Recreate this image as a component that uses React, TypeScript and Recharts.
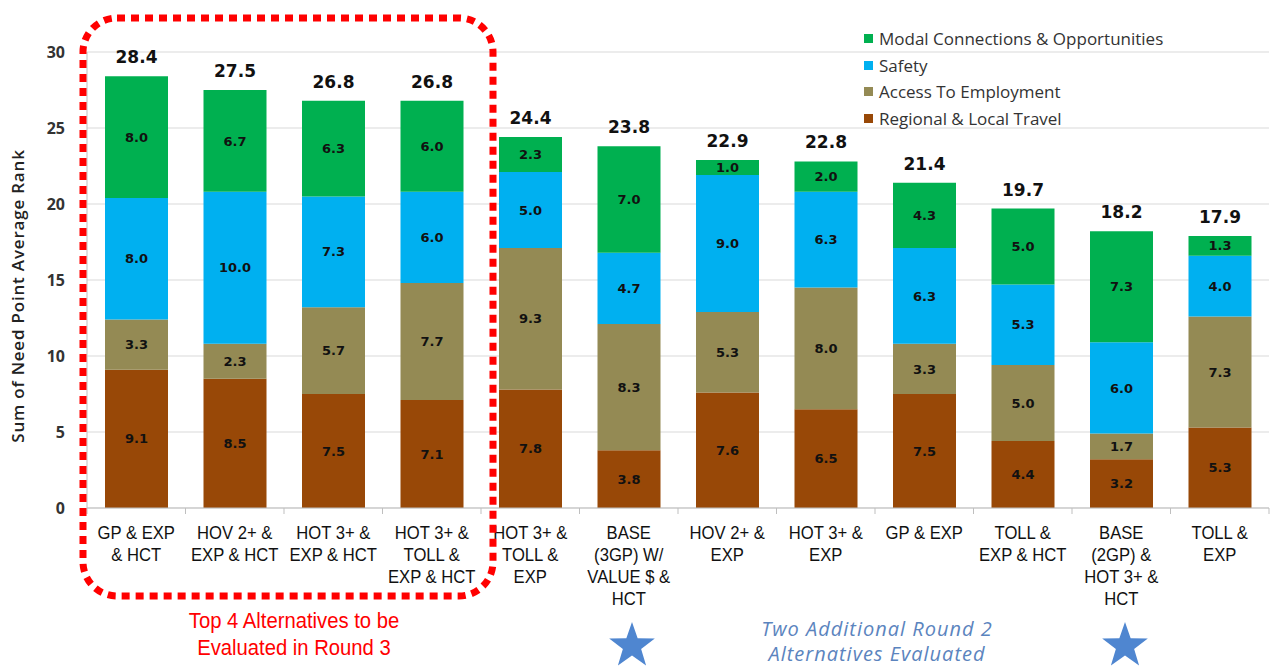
import React from "react";
import {
  BarChart,
  Bar,
  XAxis,
  YAxis,
  CartesianGrid,
  Legend,
  LabelList,
} from "recharts";

const categories = [
  "GP & EXP\n& HCT",
  "HOV 2+ &\nEXP & HCT",
  "HOT 3+ &\nEXP & HCT",
  "HOT 3+ &\nTOLL &\nEXP & HCT",
  "HOT 3+ &\nTOLL &\nEXP",
  "BASE\n(3GP) W/\nVALUE $ &\nHCT",
  "HOV 2+ &\nEXP",
  "HOT 3+ &\nEXP",
  "GP & EXP",
  "TOLL &\nEXP & HCT",
  "BASE\n(2GP) &\nHOT 3+ &\nHCT",
  "TOLL &\nEXP",
];

const regionalLocal = [9.1, 8.5, 7.5, 7.1, 7.8, 3.8, 7.6, 6.5, 7.5, 4.4, 3.2, 5.3];
const accessEmployment = [3.3, 2.3, 5.7, 7.7, 9.3, 8.3, 5.3, 8.0, 3.3, 5.0, 1.7, 7.3];
const safety = [8.0, 10.0, 7.3, 6.0, 5.0, 4.7, 9.0, 6.3, 6.3, 5.3, 6.0, 4.0];
const modal = [8.0, 6.7, 6.3, 6.0, 2.3, 7.0, 1.0, 2.0, 4.3, 5.0, 7.3, 1.3];
const totals = [28.4, 27.5, 26.8, 26.8, 24.4, 23.8, 22.9, 22.8, 21.4, 19.7, 18.2, 17.9];

const yTicks = [0, 5, 10, 15, 20, 25, 30];

// stacking order, bottom to top
const SERIES = [
  { key: "regional", name: "Regional & Local Travel", color: "#984807" },
  { key: "access", name: "Access To Employment", color: "#948A54" },
  { key: "safety", name: "Safety", color: "#00B0F0" },
  { key: "modal", name: "Modal Connections & Opportunities", color: "#00B050" },
];

const data = categories.map((name, i) => ({
  name,
  regional: regionalLocal[i],
  access: accessEmployment[i],
  safety: safety[i],
  modal: modal[i],
  total: totals[i],
}));

const W = 1273;
const H = 667;
const MARGIN = { top: 52, right: 4, left: 30, bottom: 0 };
const Y_AXIS_W = 57;
const X_AXIS_H = 159;
const PLOT_W = W - MARGIN.left - MARGIN.right - Y_AXIS_W;
const BAND = PLOT_W / categories.length;

const ARIAL = "'Liberation Sans', Arial, sans-serif";
const NUMS = "'DejaVu Sans', Verdana, sans-serif";
const SANS = "'Open Sans', sans-serif";

const CategoryTick = (props: any) => {
  const { x, y, payload, index } = props;
  const lines = String(payload.value).split("\n");
  return (
    <g>
      <line x1={x - BAND / 2} y1={y} x2={x - BAND / 2} y2={y + 6} stroke="#BFBFBF" />
      {index === categories.length - 1 && (
        <line x1={x + BAND / 2} y1={y} x2={x + BAND / 2} y2={y + 6} stroke="#BFBFBF" />
      )}
      <g transform={`translate(${x},${y + 31}) scale(0.9,1)`}>
        <text x={0} y={0} textAnchor="middle" fontFamily={ARIAL} fontSize={18.5} fill="#111">
          {lines.map((l, k) => (
            <tspan key={k} x={0} dy={k === 0 ? 0 : 22}>
              {l}
            </tspan>
          ))}
        </text>
      </g>
    </g>
  );
};

const LegendBox = () => {
  const items = [...SERIES].reverse();
  return (
    <div style={{ fontFamily: SANS, fontSize: 17, color: "#333" }}>
      {items.map((it) => (
        <div key={it.key} style={{ display: "flex", alignItems: "center", height: 26.8 }}>
          <span
            style={{
              width: 9,
              height: 9,
              background: it.color,
              display: "inline-block",
              marginRight: 6,
            }}
          />
          {it.name}
        </div>
      ))}
    </div>
  );
};

const star = (cx: number, cy: number, r: number) => {
  const pts: string[] = [];
  for (let i = 0; i < 10; i++) {
    const rr = i % 2 === 0 ? r : r * 0.4;
    const a = -Math.PI / 2 + (i * Math.PI) / 5;
    pts.push(`${cx + rr * Math.cos(a)},${cy + rr * Math.sin(a)}`);
  }
  return pts.join(" ");
};

export default function App() {
  const fmt = (v: any) => Number(v).toFixed(1);
  return (
    <div style={{ position: "absolute", left: 0, top: 0, width: W, height: H, background: "#fff" }}>
      <BarChart width={W} height={H} data={data} margin={MARGIN} barSize={63} barGap={0}>
        <CartesianGrid vertical={false} stroke="#D9D9D9" />
        <XAxis
          dataKey="name"
          height={X_AXIS_H}
          interval={0}
          tickLine={false}
          tickSize={0}
          tickMargin={0}
          stroke="#BFBFBF"
          tick={<CategoryTick />}
        />
        <YAxis
          width={Y_AXIS_W}
          domain={[0, 30]}
          ticks={yTicks}
          tickLine={false}
          stroke="#BFBFBF"
          tick={{ fill: "#333", fontSize: 16, fontWeight: 700, fontFamily: SANS }}
          tickMargin={16}
        />
        <Legend
          layout="vertical"
          verticalAlign="middle"
          align="center"
          wrapperStyle={{ top: 25, left: 864, width: 340, height: 110 }}
          content={<LegendBox />}
        />
        {SERIES.map((s, i) => (
          <Bar key={s.key} dataKey={s.key} name={s.name} stackId="a" fill={s.color} isAnimationActive={false}>
            <LabelList
              dataKey={s.key}
              position="center"
              formatter={fmt}
              style={{ fill: "#111", fontSize: 13, fontWeight: 700, fontFamily: NUMS }}
            />
            {i === SERIES.length - 1 && (
              <LabelList
                dataKey="total"
                position="top"
                offset={13}
                formatter={fmt}
                style={{ fill: "#111", fontSize: 17, fontWeight: 700, fontFamily: NUMS }}
              />
            )}
          </Bar>
        ))}
      </BarChart>
      <svg width={W} height={H} style={{ position: "absolute", left: 0, top: 0, pointerEvents: "none" }}>
        <text
          transform="translate(24,296) rotate(-90)"
          textAnchor="middle"
          fontFamily={SANS}
          fontSize={17}
          fontWeight={600}
          letterSpacing={0.8}
          fill="#222"
        >
          Sum of Need Point Average Rank
        </text>
        <rect
          x={83}
          y={18}
          width={410}
          height={578}
          rx={34}
          fill="none"
          stroke="#FF0000"
          strokeWidth={7}
          strokeDasharray="8 6"
        />
        <g transform="translate(294,628) scale(0.9,1)">
          <text x={0} y={0} textAnchor="middle" fontFamily={ARIAL} fontSize={22.5} fill="#FF0000">
            <tspan x={0}>Top 4 Alternatives to be</tspan>
            <tspan x={0} dy={27}>Evaluated in Round 3</tspan>
          </text>
        </g>
        <polygon points={star(632, 646, 24)} fill="#4F86D0" />
        <polygon points={star(1125, 646, 24)} fill="#4F86D0" />
        <text
          x={877}
          y={636}
          textAnchor="middle"
          fontFamily={SANS}
          fontStyle="italic"
          fontSize={20}
          letterSpacing={1}
          fill="#5B84BE"
        >
          <tspan x={877}>Two Additional Round 2</tspan>
          <tspan x={877} dy={25}>Alternatives Evaluated</tspan>
        </text>
      </svg>
    </div>
  );
}
